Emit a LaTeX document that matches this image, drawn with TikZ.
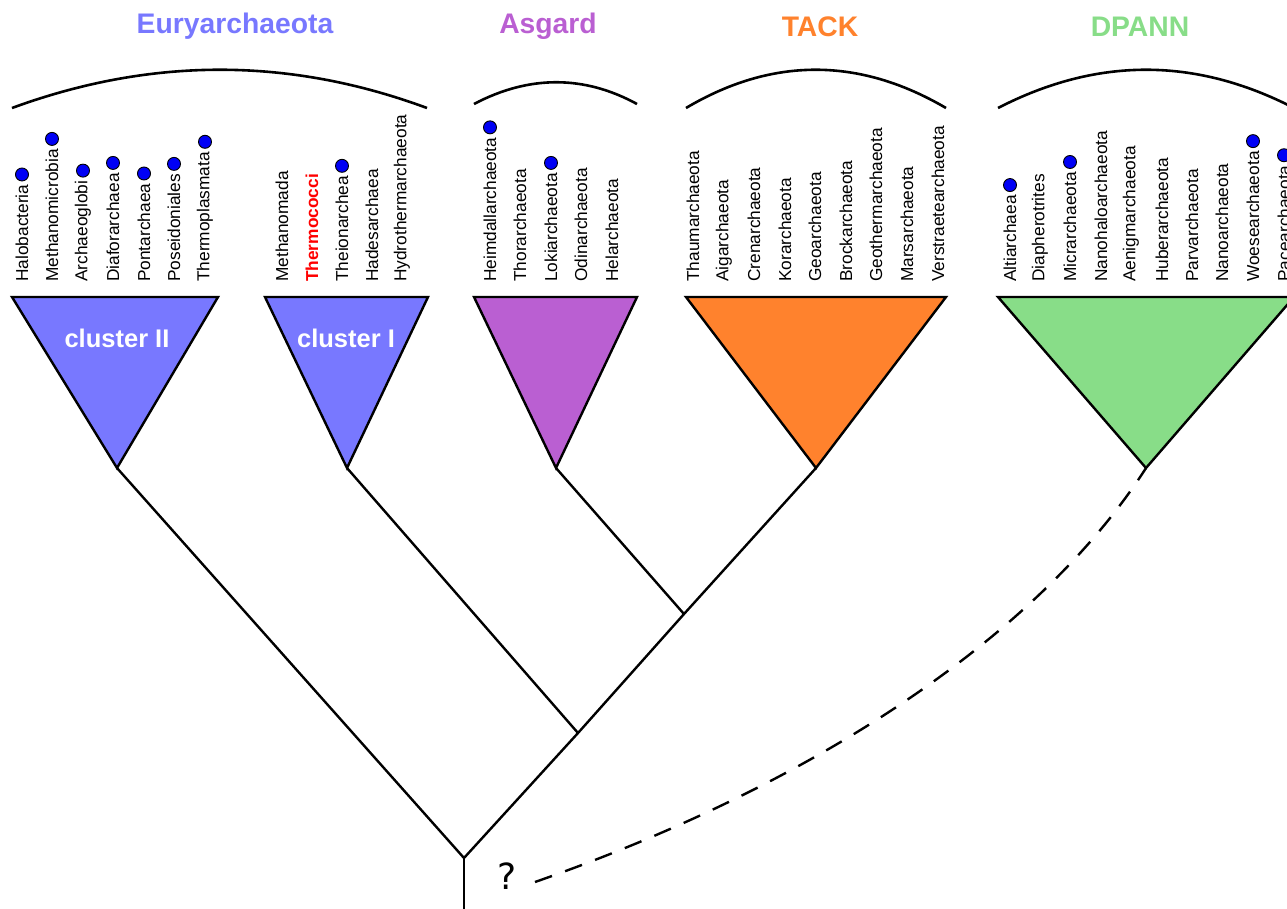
\documentclass[tikz,border=0pt]{standalone}
\usepackage{fontspec}
\setmainfont{Liberation Sans}
\newfontfamily\qfont{DejaVu Sans}
\definecolor{euryc}{RGB}{120,120,255}
\definecolor{asgc}{RGB}{186,95,210}
\definecolor{tackc}{RGB}{255,130,45}
\definecolor{dpannc}{RGB}{136,221,136}
\definecolor{dotblue}{RGB}{0,0,245}
\begin{document}
\begin{tikzpicture}[x=1pt,y=-1pt,
  lab/.style={rotate=90,anchor=west,inner sep=0pt,font=\fontsize{17.3}{18}\selectfont},
  dotm/.style={circle,draw=black,fill=dotblue,minimum size=13pt,inner sep=0pt,line width=0.9pt},
  title/.style={font=\fontsize{28.3}{30}\selectfont\bfseries,inner sep=0pt},
  clab/.style={font=\fontsize{25.5}{27}\selectfont\bfseries,text=white,inner sep=0pt},
  tri/.style={draw=black,line width=2.4pt,line join=miter},
  tree/.style={draw=black,line width=2.4pt},
  arcl/.style={draw=black,line width=2.6pt}]
\useasboundingbox (0,0) rectangle (1287,908);
% titles
\node[title,text=euryc] (tEury) at (235,26) {Euryarchaeota};
\node[title,text=asgc] (tAsg) at (548,26) {Asgard};
\node[title,text=tackc] (tTack) at (820,26.5) {TACK};
\node[title,text=dpannc] (tDpann) at (1140,26.7) {DPANN};
% arcs
\draw[arcl] (12,108) .. controls (151,57) and (289,57) .. (427,108);
\draw[arcl] (474,104) .. controls (529,75) and (584,75) .. (637,104);
\draw[arcl] (686,108) .. controls (772,57) and (859,57) .. (946,108);
\draw[arcl] (998,108) .. controls (1097,57) and (1195,57) .. (1294,108);
% triangle apexes
\coordinate (cII) at (117,468);
\coordinate (cI) at (347,468);
\coordinate (asg) at (556,468);
\coordinate (tack) at (816,468);
\coordinate (dpann) at (1146,468);
\coordinate (root) at (464,858);
\coordinate (n1) at (578,733);
\coordinate (n2) at (684,614);
\coordinate (bottom) at (464,912);
% triangles
\draw[tri,fill=euryc] (12,297) -- (218,297) -- (cII) -- cycle;
\draw[tri,fill=euryc] (265,297) -- (428,297) -- (cI) -- cycle;
\draw[tri,fill=asgc] (474,297) -- (637,297) -- (asg) -- cycle;
\draw[tri,fill=tackc] (686,297) -- (946,297) -- (tack) -- cycle;
\draw[tri,fill=dpannc] (998,297) -- (1294,297) -- (dpann) -- cycle;
\node[clab] (clII) at (117,338) {cluster II};
\node[clab] (clI) at (346,338) {cluster I};
% tree
\draw[tree] (cII) -- (root) -- (n1) -- (n2) -- (tack);
\draw[tree] (n1) -- (cI);
\draw[tree] (n2) -- (asg);
\draw[tree] (root) -- (bottom);
% labels
\foreach \x/\t/\d [count=\i] in {
  22/Halobacteria/1, 52/Methanomicrobia/1, 83/Archaeoglobi/1, 113/Diaforarchaea/1,
  144/Pontarchaea/1, 174/Poseidoniales/1, 205/Thermoplasmata/1,
  282/Methanomada/0, 342/Theionarchea/1, 372/Hadesarchaea/0, 402/Hydrothermarchaeota/0,
  490/Heimdallarchaeota/1, 520/Thorarchaeota/0, 551/Lokiarchaeota/1, 581/Odinarchaeota/0, 612/Helarchaeota/0,
  693/Thaumarchaeota/0, 724/Aigarchaeota/0, 754/Crenarchaeota/0, 785/Korarchaeota/0, 815/Geoarchaeota/0,
  846/Brockarchaeota/0, 876/Geothermarchaeota/0, 907/Marsarchaeota/0, 938/Verstraetearchaeota/0,
  1010/Altiarchaea/1, 1040/Diapherotrites/0, 1070/Micrarchaeota/1, 1101/Nanohaloarchaeota/0,
  1131/Aenigmarchaeota/0, 1162/Huberarchaeota/0, 1192/Parvarchaeota/0, 1222/Nanoarchaeota/0,
  1253/Woesearchaeota/1, 1284/Pacearchaeota/1}
{
  \node[lab] (L\i) at (\x,282) {\t};
  \ifnum\d=1 \node[dotm] (D\i) at ([yshift=10pt]L\i.east) {}; \fi
}
\node[lab,text=red,font=\fontsize{17.3}{18}\selectfont\bfseries] (Lthermo) at (312,282) {Thermococci};
% question mark and dashed link
\node[inner sep=0pt,font=\qfont\fontsize{36}{38}\selectfont] (q) at (507,876) {?};
\coordinate (dstart) at (535,882);
\draw[line width=2.4pt,dash pattern=on 18pt off 14pt] (dstart) .. controls (835,777) and (1046,624) .. (dpann);
\end{tikzpicture}
\end{document}
